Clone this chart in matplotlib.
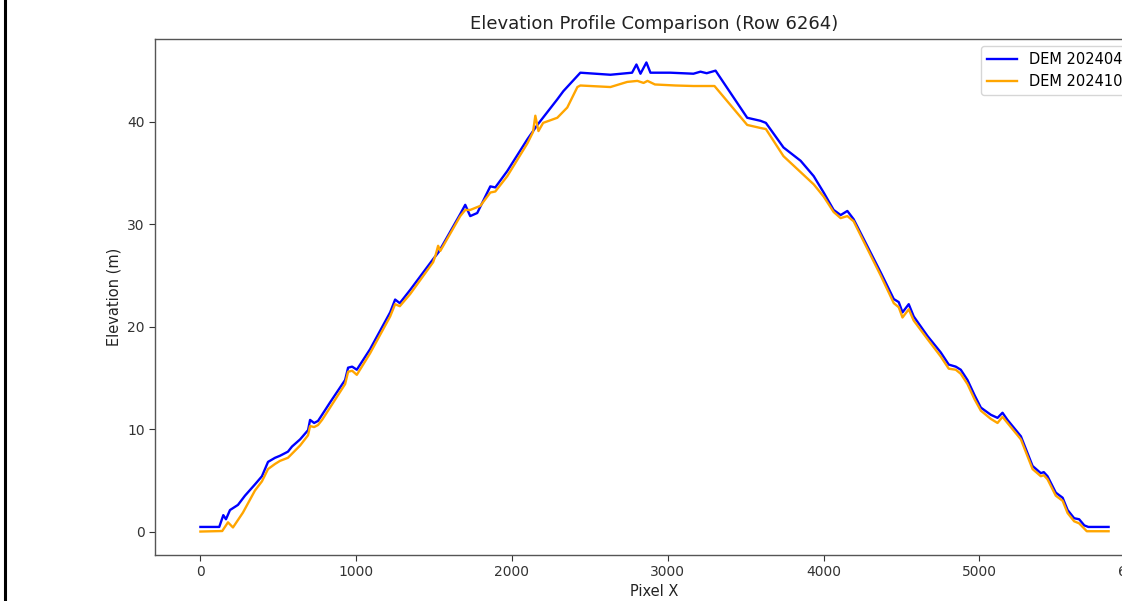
import matplotlib
matplotlib.use("Agg")
import matplotlib.pyplot as plt
from matplotlib.lines import Line2D

# Elevation samples along image row 6264 (pixel column, metres)
dem_apr_x = [0, 121, 147, 164, 190, 241, 286, 350, 395, 434, 479, 511, 562, 588,
             640, 691, 704, 730, 755, 781, 832, 929, 948, 974, 1004, 1089, 1218,
             1250, 1280, 1347, 1494, 1530, 1668, 1700, 1732, 1777, 1861, 1893,
             1970, 2099, 2163, 2291, 2330, 2439, 2632, 2771, 2799, 2825, 2863,
             2889, 3017, 3165, 3210, 3250, 3307, 3510, 3596, 3630, 3743, 3853,
             3937, 4001, 4065, 4110, 4153, 4193, 4367, 4451, 4483, 4507, 4547,
             4579, 4667, 4752, 4804, 4849, 4881, 4924, 4970, 5010, 5074, 5117,
             5149, 5181, 5267, 5342, 5395, 5414, 5438, 5491, 5535, 5567, 5609,
             5641, 5674, 5700, 5830]
dem_apr_y = [0.45, 0.45, 1.6, 1.2, 2.1, 2.6, 3.5, 4.6, 5.4, 6.8, 7.2, 7.4, 7.8, 8.3,
             9.0, 9.9, 10.9, 10.6, 10.8, 11.4, 12.6, 14.8, 16.0, 16.1, 15.8, 17.8, 21.4,
             22.65, 22.3, 23.6, 26.6, 27.3, 31.0, 31.9, 30.8, 31.1, 33.7, 33.6,
             35.2, 38.3, 39.7, 42.2, 43.0, 44.8, 44.6, 44.8, 45.6, 44.7, 45.8,
             44.8, 44.8, 44.7, 44.9, 44.75, 45.0, 40.4, 40.1, 39.9, 37.5, 36.2,
             34.7, 33.1, 31.4, 30.9, 31.3, 30.5, 25.3, 22.7, 22.4, 21.4, 22.2,
             21.0, 19.1, 17.5, 16.3, 16.1, 15.8, 14.8, 13.3, 12.1, 11.4, 11.1,
             11.6, 10.9, 9.3, 6.4, 5.7, 5.8, 5.4, 3.8, 3.3, 2.1, 1.3,
             1.2, 0.6, 0.45, 0.45]

dem_oct_x = [0, 140, 177, 209, 273, 350, 395, 434, 479, 511, 562, 588, 640, 691,
             704, 730, 755, 781, 832, 929, 948, 974, 1004, 1089, 1218, 1250, 1280,
             1347, 1494, 1510, 1526, 1540, 1668, 1700, 1732, 1797, 1861, 1893,
             1970, 2099, 2135, 2150, 2170, 2200, 2291, 2355, 2420, 2439, 2632,
             2740, 2805, 2845, 2870, 2918, 3050, 3165, 3300, 3510, 3596, 3630,
             3743, 3937, 4001, 4065, 4110, 4153, 4193, 4367, 4451, 4483, 4507,
             4547, 4579, 4667, 4752, 4804, 4849, 4881, 4924, 4970, 5010, 5074,
             5117, 5149, 5181, 5267, 5342, 5395, 5414, 5438, 5491, 5535, 5567,
             5609, 5641, 5690, 5830]
dem_oct_y = [0.0, 0.05, 0.9, 0.4, 1.85, 4.0, 4.9, 6.1, 6.6, 6.9, 7.2, 7.6, 8.4, 9.4,
             10.3, 10.2, 10.4, 10.9, 12.1, 14.4, 15.6, 15.7, 15.3, 17.4, 21.0, 22.2, 22.0,
             23.2, 26.3, 27.0, 27.9, 27.4, 30.8, 31.4, 31.4, 31.8, 33.1, 33.2,
             34.7, 37.9, 39.0, 40.6, 39.1, 39.9, 40.4, 41.4, 43.4, 43.55, 43.4,
             43.9, 44.0, 43.8, 44.0, 43.65, 43.55, 43.5, 43.5, 39.7, 39.4, 39.3,
             36.65, 33.9, 32.7, 31.2, 30.6, 30.8, 30.3, 25.0, 22.3, 21.9, 20.9,
             21.7, 20.6, 18.8, 17.1, 15.9, 15.8, 15.4, 14.4, 12.9, 11.8, 11.0,
             10.6, 11.2, 10.6, 9.0, 6.1, 5.4, 5.5, 5.1, 3.5, 3.0, 1.8,
             1.0, 0.8, 0.03, 0.03]

labels = ["DEM 20240415", "DEM 20241015"]

fig = plt.figure(figsize=(11.22, 6.01), dpi=100)
ax = fig.add_axes([155 / 1122, 46 / 601, 999 / 1122, 516 / 601])

ax.plot(dem_apr_x, dem_apr_y, color="blue", lw=1.7, label=labels[0])
ax.plot(dem_oct_x, dem_oct_y, color="orange", lw=1.7, label=labels[1])

ax.set_title("Elevation Profile Comparison (Row 6264)", fontsize=13, color="#222222", pad=7)
ax.set_xlabel("Pixel X", fontsize=10.5, color="#222222", labelpad=3)
ax.set_ylabel("Elevation (m)", fontsize=10.5, color="#222222")
ax.set_xticks([0, 1000, 2000, 3000, 4000, 5000, 6000])
ax.set_yticks([0, 10, 20, 30, 40])
ax.tick_params(labelsize=10, colors="#333333", length=4)
for s in ax.spines.values():
    s.set_color("#555555")
    s.set_linewidth(1.0)

ax.legend(loc="upper right", fontsize=10.5, handlelength=2.1)

# dark frame line on the left edge
fig.add_artist(Line2D([5.3 / 1122, 5.3 / 1122], [0, 1], transform=fig.transFigure,
                      color="black", lw=2.2))

fig.savefig("out.png", dpi=100)
